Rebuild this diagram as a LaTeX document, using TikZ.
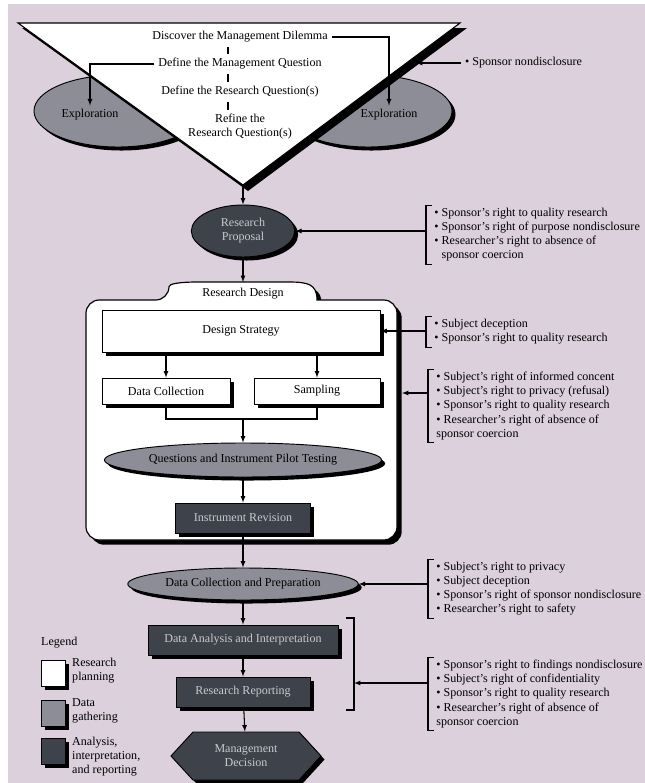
\documentclass[tikz,border=0pt]{standalone}
\usepackage{fontspec}
\setmainfont{Liberation Serif}
\usetikzlibrary{arrows,shapes,shadows}

\begin{document}
\begin{tikzpicture}[x=0.03cm,y=-0.03cm,>=latex,
	every node/.style={font=\fontsize{10.3}{12}\selectfont},
	shd/.style={drop shadow={shadow xshift=3pt,shadow yshift=-3pt,fill=black,opacity=1}},
	plan/.style={draw,fill=white,line width=0.8pt,shd},
	gather/.style={ellipse,draw,fill=color2,line width=0.8pt,shd},
	anal/.style={draw,fill=color3,text=color4,line width=0.8pt,shd},
	brk/.style={anchor=west,align=left,inner xsep=7pt,inner ysep=2.5pt},
	flow/.style={->,line width=0.9pt},
	link/.style={line width=0.9pt}]
	\definecolor{color1}{RGB}{219,208,220}  %% background
	\definecolor{color2}{RGB}{140,141,150}
	\definecolor{color3}{RGB}{62,67,75}
	\definecolor{color4}{RGB}{200,200,206}
	\useasboundingbox (0,0) rectangle (645,783);
	\fill[white] (0,0) rectangle (645,783);
	\fill[color1] (8,4) rectangle (645,783);
	%% Problem triangle ------
	\node[gather,minimum width=5.04cm,minimum height=2.16cm] (expL) at (118,111) {};
	\node[gather,minimum width=5.04cm,minimum height=2.16cm] (expR) at (368,111) {};
	\fill[black] (22,28) -- (467,28) -- (248,191) -- cycle;
	\draw[link,fill=white] (18,23) -- (460,23) -- (243,185) -- cycle;
	\coordinate (apex) at (243,185);
	\coordinate (spine) at (228,0);
	\coordinate (trEdge) at (416,63);
	\node (expLtxt) at (90,115) {Exploration};
	\node (expRtxt) at (389,115) {Exploration};
	\node (dilemma) at (240,37) {Discover the Management Dilemma};
	\node (mgmtq) at (240,64) {Define the Management Question};
	\node (resq) at (240,92) {Define the Research Question(s)};
	\node[align=center] (refine) at (240,127) {Refine the\\Research Question(s)};
	\node[anchor=west] (snd) at (461,63) {\textbullet~Sponsor nondisclosure};
	%% Research design box ------
	\draw[link,line width=1pt,drop shadow={shadow xshift=4pt,shadow yshift=-4pt,fill=black,opacity=1},fill=white]
		(169,300) .. controls (169,284) and (178,282) .. (198,282) -- (288,282)
		.. controls (308,282) and (317,284) .. (317,300)
		[rounded corners=0.4cm] -- (397,300) -- (397,540) -- (86,540) -- (86,300) -- cycle;
	\coordinate (tab) at (243,282);
	\coordinate (join) at (243,419);
	\coordinate (boxR) at (402,393);
	\node (rdlbl) at (243,294) {Research Design};
	%% Vertices ------
	\node[anal,ellipse,align=center,minimum width=3.1cm,minimum height=1.56cm] (rp) at (243,231) {Research\\Proposal};
	\node[plan,minimum width=8.34cm,minimum height=1.26cm] (ds) at (241,331) {Design Strategy};
	\node[plan,minimum width=3.84cm,minimum height=0.78cm] (dc) at (166,391) {Data Collection};
	\node[plan,minimum width=3.78cm,minimum height=0.78cm] (sp) at (317,391) {Sampling};
	\node[gather,minimum width=6.96cm,minimum height=1.02cm] (qip) at (243,460) {Questions and Instrument Pilot Testing};
	\node[anal,minimum width=4.05cm,minimum height=0.9cm] (ir) at (243,518) {Instrument Revision};
	\node[gather,minimum width=6.42cm,minimum height=0.96cm] (dcp) at (243,584) {Data Collection and Preparation};
	\node[anal,minimum width=5.7cm,minimum height=0.9cm] (dai) at (243,640) {Data Analysis and Interpretation};
	\node[anal,minimum width=4.02cm,minimum height=0.9cm] (rr) at (243,692) {Research Reporting};
	\node[anal,signal,signal to=east and west,signal pointer angle=95,minimum width=4.5cm,minimum height=1.44cm,align=center] (md) at (246,756) {Management\\Decision};
	%% Ethical issues ------
	\node[brk] (b1) at (426,235) {\textbullet~Sponsor's right to quality research\\\textbullet~Sponsor's right of purpose nondisclosure\\\textbullet~Researcher's right to absence of\\\phantom{\textbullet}~sponsor coercion};
	\node[brk] (b2) at (426,332) {\textbullet~Subject deception\\\textbullet~Sponsor's right to quality research};
	\node[brk] (b3) at (428,406) {\textbullet~Subject's right of informed concent\\\textbullet~Subject's right to privacy (refusal)\\\textbullet~Sponsor's right to quality research\\\textbullet~Researcher's right of absence of\\sponsor coercion};
	\node[brk] (b4) at (428,589) {\textbullet~Subject's right to privacy\\\textbullet~Subject deception\\\textbullet~Sponsor's right of sponsor nondisclosure\\\textbullet~Researcher's right to safety};
	\node[brk] (b5) at (428,694) {\textbullet~Sponsor's right to findings nondisclosure\\\textbullet~Subject's right of confidentiality\\\textbullet~Sponsor's right to quality research\\\textbullet~Researcher's right of absence of\\sponsor coercion};
	\foreach \b in {b1,b2,b3,b4,b5}
		\draw[link] ([xshift=5pt]\b.north west) -- (\b.north west) -- (\b.south west) -- ([xshift=5pt]\b.south west);
	\draw[link] (346,618) -- (354,618) -- (354,710) -- (346,710);
	\coordinate (rbMid) at (354,683);
	%% Legend ------
	\node[anchor=west,inner sep=0pt] (lgd) at (41,643) {Legend};
	\node[plan,inner sep=0pt,minimum width=0.72cm,minimum height=0.78cm] (lg1) at (53,673) {};
	\node[gather,rectangle,inner sep=0pt,minimum width=0.72cm,minimum height=0.78cm] (lg2) at (53,713) {};
	\node[anal,inner sep=0pt,minimum width=0.72cm,minimum height=0.78cm] (lg3) at (53,751) {};
	\node[anchor=west,align=left,inner sep=0pt] (lgt1) at (72,671) {Research\\planning};
	\node[anchor=west,align=left,inner sep=0pt] (lgt2) at (72,711) {Data\\gathering};
	\node[anchor=west,align=left,inner sep=0pt] (lgt3) at (72,757) {Analysis,\\interpretation,\\and reporting};
	%% Edges ---------
	\draw[link] (dilemma.south -| spine) -- (mgmtq.north -| spine);
	\draw[link] (mgmtq.south -| spine) -- (resq.north -| spine);
	\draw[link] (resq.south -| spine) -- (refine.north -| spine);
	\draw[flow] (dilemma.east) -| (expRtxt.north);
	\draw[flow] (mgmtq.west) -| (expLtxt.north);
	\draw[flow] (snd.west) -- (trEdge);
	\draw[flow] (apex) -- (rp);
	\draw[flow] (rp) -- (tab);
	\draw[flow] (ds.south -| dc) -- (dc);
	\draw[flow] (ds.south -| sp) -- (sp);
	\draw[link] (dc) |- (join) -| (sp);
	\draw[flow] (join) -- (qip);
	\draw[flow] (qip) -- (ir);
	\draw[flow] (ir) -- (dcp);
	\draw[flow] (dcp) -- (dai);
	\draw[flow] (dai) -- (rr);
	\draw[flow] (rr) -- (md);
	\draw[flow] (rp.east -| b1.west) -- (rp.east);
	\draw[flow] (ds.east -| b2.west) -- (ds.east);
	\draw[flow] (boxR -| b3.west) -- (boxR);
	\draw[flow] (dcp.east -| b4.west) -- (dcp.east);
	\draw[flow] (rbMid -| b5.west) -- (rbMid);
\end{tikzpicture}
\end{document}
